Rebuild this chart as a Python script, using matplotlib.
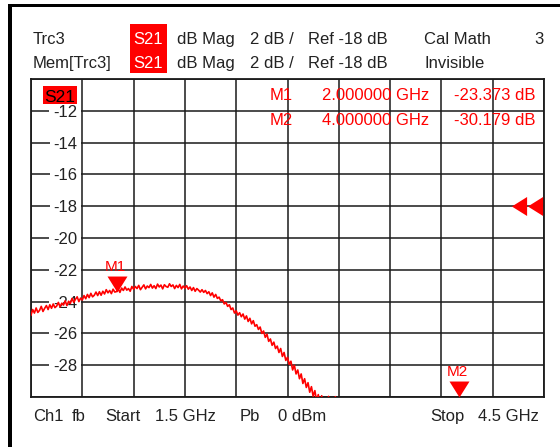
import numpy as np
import matplotlib
matplotlib.use('Agg')
import matplotlib.pyplot as plt
from matplotlib.patches import Rectangle

plt.rcParams['font.family'] = ['Liberation Sans', 'DejaVu Sans']

# S21 trace (dB), one sample every 10 MHz starting at 1.5 GHz
f_start, f_stop, f_step = 1.5, 4.5, 0.01
trace_db = [
    -24.85, -24.50, -24.72, -24.40, -24.68, -24.55, -24.30, -24.62, -24.42, -24.25,
    -24.50, -24.20, -24.42, -24.15, -24.38, -24.28, -24.05, -24.33, -24.10, -24.22,
    -23.95, -24.25, -23.98, -24.12, -23.80, -24.05, -23.85, -23.70, -24.00, -23.78,
    -23.90, -23.62, -23.82, -23.55, -23.75, -23.48, -23.70, -23.60, -23.40, -23.62,
    -23.38, -23.60, -23.35, -23.52, -23.25, -23.45, -23.30, -23.50, -23.22, -23.40,
    -23.37, -23.20, -23.42, -23.15, -23.30, -23.08, -23.28, -23.18, -23.35, -23.05,
    -23.22, -23.05, -23.18, -22.98, -23.25, -23.10, -22.95, -23.20, -23.02, -23.12,
    -22.92, -23.15, -23.00, -23.18, -22.90, -23.08, -22.96, -23.20, -22.94, -23.05,
    -23.10, -22.88, -23.05, -22.95, -23.18, -22.98, -23.12, -22.92, -23.20, -23.02,
    -23.15, -23.00, -23.22, -23.08, -23.30, -23.12, -23.35, -23.18, -23.28, -23.40,
    -23.25, -23.42, -23.30, -23.50, -23.38, -23.62, -23.45, -23.72, -23.55, -23.80,
    -23.72, -23.95, -23.88, -24.15, -24.05, -24.30, -24.20, -24.50, -24.40, -24.72,
    -24.58, -24.85, -24.70, -24.95, -24.78, -25.10, -24.90, -25.25, -25.05, -25.40,
    -25.20, -25.55, -25.45, -25.75, -25.60, -26.00, -25.85, -26.25, -26.05, -26.50,
    -26.35, -26.75, -26.55, -26.95, -26.80, -27.20, -26.95, -27.45, -27.20, -27.70,
    -27.50, -27.95, -27.75, -28.30, -28.00, -28.55, -28.30, -28.85, -28.55, -29.15,
    -28.85, -29.40, -29.10, -29.70, -29.35, -29.95, -29.60, -30.25, -29.85, -30.50,
    -29.92, -30.60, -30.20, -30.90, -29.96, -31.10, -30.50, -31.30, -29.98, -31.50,
    -31.20, -31.80, -31.40, -32.00, -31.70, -32.30,
]
freq_ghz = f_start + f_step * np.arange(len(trace_db))

marker_names = ['M1', 'M2']
marker_freq = [2.0, 4.0]
marker_db = [-23.373, -30.179]

ref_level = -18
y_top, y_bottom, y_div = -10, -30, 2
y_labels = [-12, -14, -16, -18, -20, -22, -24, -26, -28]

header_row1 = [('Trc3', 33), ('S21', 133), ('dB Mag', 177), ('2 dB /', 250),
               ('Ref -18 dB', 308), ('Cal Math', 424), ('3', 534)]
header_row2 = [('Mem[Trc3]', 33), ('S21', 133), ('dB Mag', 177), ('2 dB /', 250),
               ('Ref -18 dB', 308), ('Invisible', 424)]
footer = [('Ch1', 33), ('fb', 72), ('Start', 105), ('1.5 GHz', 155), ('Pb', 240),
          ('0 dBm', 278), ('Stop', 430), ('4.5 GHz', 478)]

W, H = 560, 447
RED = '#ff0000'
INK = '#222222'
fig = plt.figure(figsize=(W / 100, H / 100), dpi=100)


def fx(x):
    return x / W


def fy(y):
    return 1 - y / H


def rect(x0, y0, x1, y1, color):
    fig.patches.append(Rectangle((fx(x0), fy(y1)), fx(x1) - fx(x0), fy(y0) - fy(y1),
                                 transform=fig.transFigure, facecolor=color,
                                 edgecolor='none', zorder=0))


# window frame (left and top edges)
rect(8, 4, 12, 447, 'black')
rect(8, 4, 560, 7, 'black')

# header lines
rect(130, 24, 167, 73, RED)
for row, base in ((header_row1, 44), (header_row2, 68)):
    for txt, x in row:
        fig.text(fx(x), fy(base), txt, fontsize=12, va='baseline',
                 color='white' if txt == 'S21' else INK)

for txt, x in footer:
    fig.text(fx(x), fy(421), txt, fontsize=12, va='baseline', color=INK)

# diagram area
ax = fig.add_axes([fx(31), fy(397), fx(544) - fx(31), fy(79) - fy(397)])
ax.set_xlim(f_start, f_stop)
ax.set_ylim(y_bottom, y_top)
ax.set_xticks(np.linspace(f_start, f_stop, 11))
ax.set_yticks(np.arange(y_bottom, y_top + 1, y_div))
ax.tick_params(length=0, labelbottom=False, labelleft=False)
ax.grid(True, color='#1a1a1a', lw=1.1)
ax.set_axisbelow(True)
for s in ax.spines.values():
    s.set_linewidth(1.3)
    s.set_color('#1a1a1a')

ytrans = ax.get_yaxis_transform()
for v in y_labels:
    ax.annotate(f'{v}', xy=(0.0897, v), xycoords=ytrans, xytext=(0, -4.3),
                textcoords='offset points', ha='right', va='baseline', fontsize=12,
                color=INK, zorder=3,
                bbox=dict(facecolor='white', edgecolor='none', pad=2.5))

ax.plot(freq_ghz, trace_db, color=RED, lw=1.2, zorder=4)

# trace label in the corner
rect(43, 86, 77, 104, RED)
fig.text(fx(44), fy(102), 'S21', fontsize=12.5, va='baseline', color='black')

# markers (pinned to the bottom edge when below the grid)
tri_down = [(-0.625, 1), (0.625, 1), (0, 0)]
for name, f, v in zip(marker_names, marker_freq, marker_db):
    tip = max(v, y_bottom)
    ax.plot([f], [tip], ls='none', marker=tri_down, ms=23, mew=0, color=RED,
            clip_on=False, zorder=5)
    ax.annotate(name, xy=(f, tip), xytext=(-1, 15), textcoords='offset points',
                ha='center', va='baseline', fontsize=11, color=RED,
                annotation_clip=False)

# marker readout table
for i, (name, f, v) in enumerate(zip(marker_names, marker_freq, marker_db)):
    base = 100 + 25 * i
    fig.text(fx(270), fy(base), name, fontsize=12, va='baseline', color=RED)
    fig.text(fx(429), fy(base), f'{f:.6f} GHz', fontsize=12, va='baseline',
             ha='right', color=RED)
    fig.text(fx(535), fy(base), f'{v:.3f} dB', fontsize=12, va='baseline',
             ha='right', color=RED)

# reference level arrows on the right edge
tri_left = [(-0.8, 0), (0.8, -1), (0.8, 1)]
ax.plot([0.952, 0.9825], [ref_level, ref_level], transform=ytrans, ls='none',
        marker=tri_left, ms=13.7, mew=0, color=RED, clip_on=False, zorder=5)

fig.savefig('out.png', dpi=100, facecolor='white')
